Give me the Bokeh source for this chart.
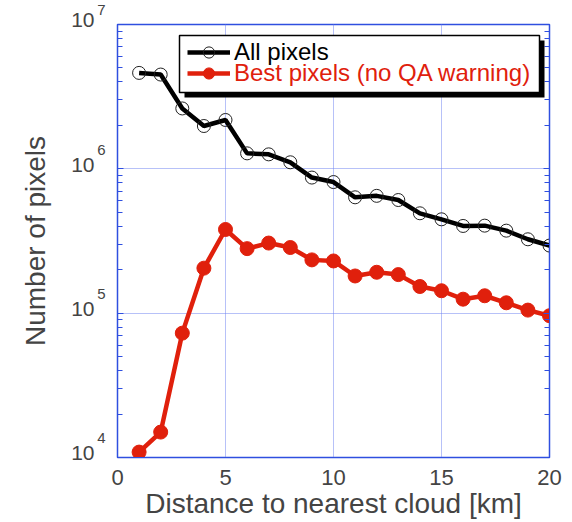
from bokeh.plotting import figure
from bokeh.models import (Range1d, LogAxis, Legend, LegendItem, FixedTicker,
                          LogTicker, CustomJSTickFormatter, BoxAnnotation)
from bokeh.embed import file_html
from bokeh.resources import INLINE

# ---- data ----
distance_km = [1, 2, 3, 4, 5, 6, 7, 8, 9, 10, 11, 12, 13, 14, 15, 16, 17, 18, 19, 20]
all_pixels = [4.62e6, 4.5e6, 2.62e6, 1.98e6, 2.18e6, 1.28e6, 1.26e6, 1.11e6, 8.7e5, 8.1e5,
              6.35e5, 6.5e5, 6.08e5, 4.92e5, 4.47e5, 4.02e5, 4.04e5, 3.73e5, 3.25e5, 2.94e5]
best_pixels = [1.09e4, 1.5e4, 7.27e4, 2.05e5, 3.8e5, 2.8e5, 3.06e5, 2.85e5, 2.34e5, 2.3e5,
               1.81e5, 1.92e5, 1.85e5, 1.53e5, 1.43e5, 1.25e5, 1.32e5, 1.18e5, 1.05e5, 9.6e4]
x_ticks = [0, 5, 10, 15, 20]
y_ticks = [1e4, 1e5, 1e6, 1e7]
y_tick_base = "10"
y_tick_exponents = ["4", "5", "6", "7"]
series_names = ["All pixels", "Best pixels (no QA warning)"]

FONT = "Liberation Sans"
AXIS_BLUE = "#2f4fe0"
GRID_BLUE = "#6f82f0"
RED = "#e0200c"

p = figure(width=572, height=522, y_axis_type="log",
           x_range=Range1d(0, 20), y_range=Range1d(1e4, 1e7),
           output_backend="svg", toolbar_location=None,
           min_border_left=117, min_border_right=23,
           min_border_top=24, min_border_bottom=65)

p.background_fill_color = "white"
p.border_fill_color = "white"
p.outline_line_color = AXIS_BLUE
p.outline_line_width = 1.5

# grid
p.xgrid.ticker = FixedTicker(ticks=[5, 10, 15])
p.ygrid.ticker = FixedTicker(ticks=[1e5, 1e6])
for g in (p.xgrid, p.ygrid):
    g.grid_line_color = GRID_BLUE
    g.grid_line_dash = "1 1"
    g.grid_line_width = 1

# x axis
xa = p.xaxis[0]
xa.ticker = FixedTicker(ticks=x_ticks)
xa.axis_label = "Distance to nearest cloud [km]"
xa.axis_label_text_font = FONT
xa.axis_label_text_font_size = "28px"
xa.axis_label_text_font_style = "normal"
xa.axis_label_standoff = 0
xa.major_label_text_font = FONT
xa.major_label_text_font_size = "22px"
xa.major_label_standoff = 12
xa.axis_line_color = AXIS_BLUE
xa.major_tick_line_color = AXIS_BLUE
xa.major_tick_in = 0
xa.major_tick_out = 0
xa.minor_tick_line_color = None

# inner left axis: ticks + exponents (raised by a blank second line)
ya = p.yaxis[0]
ya.ticker = LogTicker(num_minor_ticks=10)
ya.major_label_overrides = {t: e + "\n " for t, e in zip(y_ticks, y_tick_exponents)}
ya.major_label_text_font = FONT
ya.major_label_text_font_size = "15px"
ya.major_label_text_line_height = 2.3
ya.major_label_standoff = 12
ya.axis_label_standoff = 0
ya.axis_line_color = AXIS_BLUE
ya.major_tick_line_color = AXIS_BLUE
ya.minor_tick_line_color = AXIS_BLUE
ya.major_tick_in = 6
ya.major_tick_out = 0
ya.minor_tick_in = 5
ya.minor_tick_out = 0

# outer left axis: the "10" bases and the axis title
ya2 = LogAxis(ticker=FixedTicker(ticks=y_ticks))
ya2.major_label_overrides = {t: y_tick_base + "\n " for t in y_ticks}
ya2.major_label_text_font = FONT
ya2.major_label_text_font_size = "21px"
ya2.major_label_text_line_height = 0.4
ya2.major_label_standoff = 0
ya2.axis_line_color = None
ya2.major_tick_line_color = None
ya2.minor_tick_line_color = None
ya2.major_tick_in = 0
ya2.major_tick_out = 0
ya2.minor_tick_in = 0
ya2.minor_tick_out = 0
ya2.axis_label = "Number of pixels"
ya2.axis_label_text_font = FONT
ya2.axis_label_text_font_size = "28px"
ya2.axis_label_text_font_style = "normal"
ya2.axis_label_standoff = 17
p.add_layout(ya2, "left")

# right axis (ticks only)
ra = LogAxis(ticker=LogTicker(num_minor_ticks=10),
             formatter=CustomJSTickFormatter(code="return '';"))
ra.major_label_standoff = 0
ra.axis_line_color = AXIS_BLUE
ra.major_tick_line_color = AXIS_BLUE
ra.minor_tick_line_color = AXIS_BLUE
ra.major_tick_in = 6
ra.major_tick_out = 0
ra.minor_tick_in = 5
ra.minor_tick_out = 0
p.add_layout(ra, "right")

# data
l_all = p.line(distance_km, all_pixels, line_color="black", line_width=4.5)
s_all = p.scatter(distance_km, all_pixels, marker="circle", size=13,
                  fill_color=None, line_color="#222222", line_width=1)
l_best = p.line(distance_km, best_pixels, line_color=RED, line_width=4.5)
s_best = p.scatter(distance_km, best_pixels, marker="circle", size=14,
                   fill_color=RED, line_color=RED)

# legend box (screen px from the frame's lower-left corner)
BOX_L, BOX_R, BOX_B, BOX_T = 62, 422, 365, 422
shadow = BoxAnnotation(left=BOX_L + 5, right=BOX_R + 5, bottom=BOX_B - 5, top=BOX_T - 5,
                       left_units="screen", right_units="screen",
                       bottom_units="screen", top_units="screen",
                       fill_color="black", fill_alpha=1, line_color=None)
box = BoxAnnotation(left=BOX_L, right=BOX_R, bottom=BOX_B, top=BOX_T,
                    left_units="screen", right_units="screen",
                    bottom_units="screen", top_units="screen",
                    fill_color="white", fill_alpha=1,
                    line_color="black", line_width=1.5, line_alpha=1)
p.add_layout(shadow)
p.add_layout(box)

def row_legend(item, loc, color):
    lg = Legend(items=[item], location=loc)
    lg.label_text_font = FONT
    lg.label_text_font_size = "24px"
    lg.label_text_color = color
    lg.glyph_width = 43
    lg.glyph_height = 28
    lg.label_height = 28
    lg.label_standoff = 4
    lg.spacing = 0
    lg.padding = 0
    lg.margin = 0
    lg.border_line_color = None
    lg.background_fill_alpha = 0
    return lg

p.add_layout(row_legend(LegendItem(label=series_names[0], renderers=[l_all, s_all]),
                        (70, 391), "black"), "center")
p.add_layout(row_legend(LegendItem(label=series_names[1], renderers=[l_best, s_best]),
                        (70, 370), RED), "center")

open("out.html", "w").write(file_html(p, INLINE))
